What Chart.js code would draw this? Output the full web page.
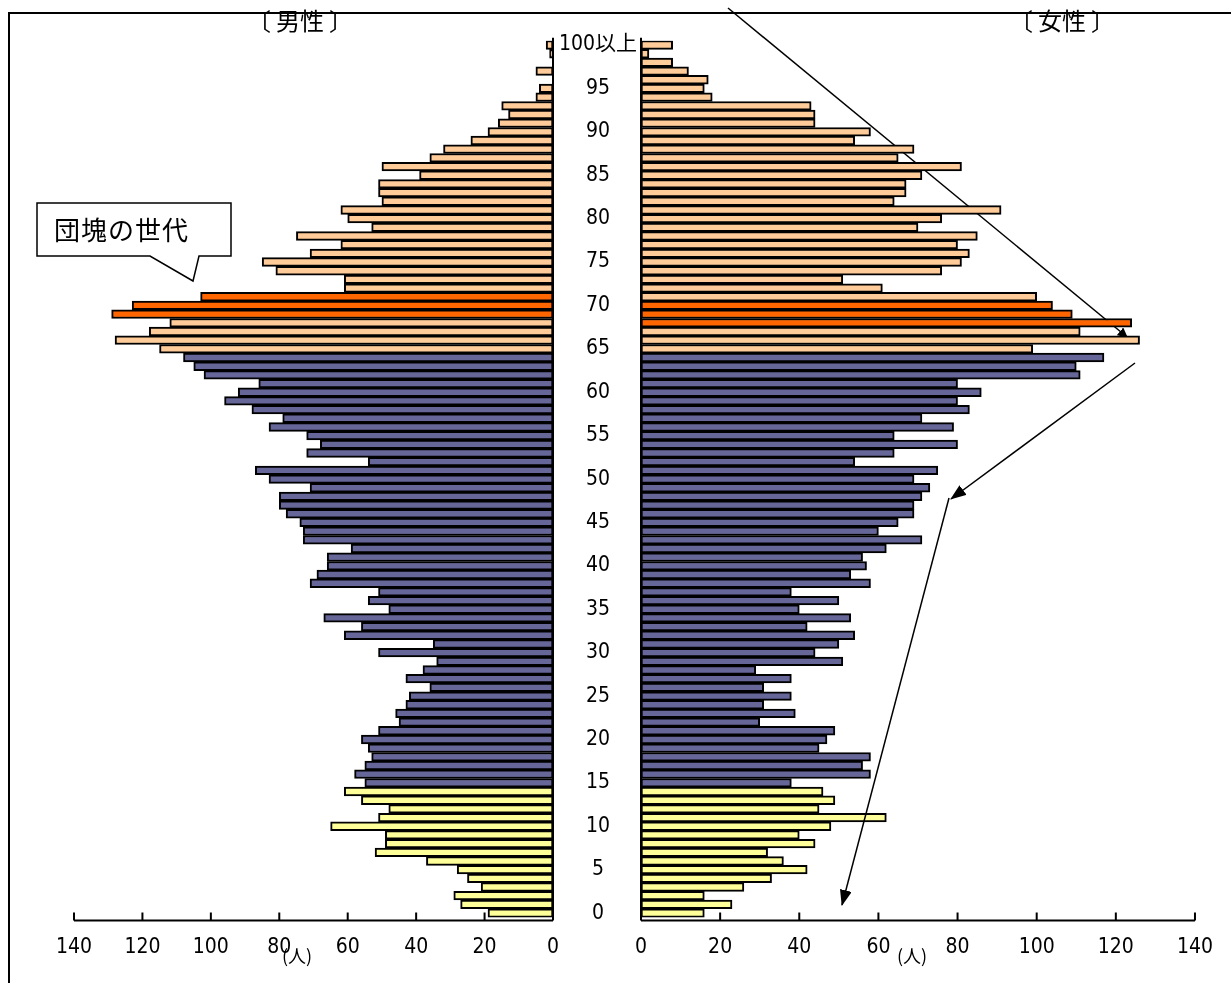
<!DOCTYPE html>
<html lang="ja">
<head>
<meta charset="utf-8">
<title>人口ピラミッド</title>
<script src="https://cdn.jsdelivr.net/npm/chart.js@4.4.1/dist/chart.umd.min.js"></script>
<style>
  html, body { margin: 0; padding: 0; background: #fff; }
  body { width: 1231px; height: 983px; position: relative; overflow: hidden;
         font-family: "Liberation Sans Narrow", "DejaVu Sans Condensed", "Noto Sans CJK JP", sans-serif; color: #000; }
  .frame { position: absolute; left: 8px; top: 12px; width: 1300px; height: 1000px;
           border-left: 2px solid #000; border-top: 2px solid #000; }
  .chartBox { position: absolute; top: 0; height: 983px; z-index: 1; }
  #maleBox { left: 0; width: 560px; }
  #femaleBox { left: 555px; width: 676px; }
  .txt { position: absolute; text-align: center; white-space: nowrap; z-index: 3; }
  .sex { font-family: "Noto Sans CJK JP", sans-serif; font-size: 24px; line-height: 28px; top: 6px; width: 200px; }
  .sex .open { padding-right: 5px; }
  .sex .close { padding-left: 5px; }
  .unit { font-family: "Noto Sans CJK JP", sans-serif; font-size: 18px; line-height: 24px; top: 943px; width: 60px; }
  .callout { font-family: "Noto Sans CJK JP", sans-serif; font-size: 26px; line-height: 30px; left: 54px; top: 214px;
             text-align: left; letter-spacing: 1px; }
  svg { position: absolute; left: 0; top: 0; }
</style>
</head>
<body>
<div class="frame"></div>

<!-- line behind the bars -->
<svg width="1231" height="983" style="z-index:0">
  <defs>
    <marker id="headA" markerWidth="10" markerHeight="10" refX="9" refY="5" orient="auto" markerUnits="userSpaceOnUse">
      <path d="M0,0 L10,5 L0,10 z" fill="#000"/>
    </marker>
  </defs>
  <line x1="728" y1="8" x2="1127" y2="337" stroke="#000" stroke-width="1.5" marker-end="url(#headA)"/>
</svg>

<div class="chartBox" id="maleBox"><canvas id="maleChart"></canvas></div>
<div class="chartBox" id="femaleBox"><canvas id="femaleChart"></canvas></div>

<!-- callout and arrows over the bars -->
<svg width="1231" height="983" style="z-index:2">
  <defs>
    <marker id="headB" markerWidth="16" markerHeight="12" refX="15" refY="6" orient="auto" markerUnits="userSpaceOnUse">
      <path d="M0,0 L16,6 L0,12 z" fill="#000"/>
    </marker>
  </defs>
  <polygon points="37,203 231,203 231,256 199,256 193,281 150,256 37,256" fill="#fff" stroke="#000" stroke-width="1.5"/>
  <line x1="1135" y1="363" x2="951" y2="499" stroke="#000" stroke-width="1.5" marker-end="url(#headB)"/>
  <line x1="949" y1="498" x2="842" y2="905" stroke="#000" stroke-width="1.5" marker-end="url(#headB)"/>
</svg>

<div class="txt sex" style="left:200px"><span class="open">〔</span>男性<span class="close">〕</span></div>
<div class="txt sex" style="left:962px"><span class="open">〔</span>女性<span class="close">〕</span></div>
<div class="txt unit" style="left:267px">(人)</div>
<div class="txt unit" style="left:882px">(人)</div>
<div class="txt callout">団塊の世代</div>

<script>
// ─────────────────────────────────────────────
// Data (age 0 → 100以上)
// ─────────────────────────────────────────────
const ages = [];
for (let a = 0; a < 100; a++) ages.push(String(a));
ages.push('100以上');

const tickLabels = ['0', '5', '10', '15', '20', '25', '30', '35', '40', '45', '50',
                    '55', '60', '65', '70', '75', '80', '85', '90', '95', '100以上'];
const axisTicks = [0, 20, 40, 60, 80, 100, 120, 140];

const male = [
    19, 27, 29, 21, 25, 28, 37, 52, 49, 49,      // 0-9
    65, 51, 48, 56, 61, 55, 58, 55, 53, 54,      // 10-19
    56, 51, 45, 46, 43, 42, 36, 43, 38, 34,      // 20-29
    51, 35, 61, 56, 67, 48, 54, 51, 71, 69,      // 30-39
    66, 66, 59, 73, 73, 74, 78, 80, 80, 71,      // 40-49
    83, 87, 54, 72, 68, 72, 83, 79, 88, 96,      // 50-59
    92, 86, 102, 105, 108, 115, 128, 118, 112, 129, // 60-69
    123, 103, 61, 61, 81, 85, 71, 62, 75, 53,    // 70-79
    60, 62, 50, 51, 51, 39, 50, 36, 32, 24,      // 80-89
    19, 16, 13, 15, 5, 4, 0, 5, 0, 1,            // 90-99
    2                                            // 100以上
];

const female = [
    16, 23, 16, 26, 33, 42, 36, 32, 44, 40,      // 0-9
    48, 62, 45, 49, 46, 38, 58, 56, 58, 45,      // 10-19
    47, 49, 30, 39, 31, 38, 31, 38, 29, 51,      // 20-29
    44, 50, 54, 42, 53, 40, 50, 38, 58, 53,      // 30-39
    57, 56, 62, 71, 60, 65, 69, 69, 71, 73,      // 40-49
    69, 75, 54, 64, 80, 64, 79, 71, 83, 80,      // 50-59
    86, 80, 111, 110, 117, 99, 126, 111, 124, 109, // 60-69
    104, 100, 61, 51, 76, 81, 83, 80, 85, 70,    // 70-79
    76, 91, 64, 67, 67, 71, 81, 65, 69, 54,      // 80-89
    58, 44, 44, 43, 18, 16, 17, 12, 8, 2,        // 90-99
    8                                            // 100以上
];

// 団塊の世代 highlighted rows
const maleBoomAges = [69, 70, 71];
const femaleBoomAges = [68, 69, 70];

const YELLOW = '#FFFF99';
const PURPLE = '#666699';
const PEACH = '#FFCC99';
const ORANGE = '#FF6600';

function barColors(boomAges) {
    return ages.map((_, age) => {
        if (boomAges.includes(age)) return ORANGE;
        if (age < 15) return YELLOW;
        if (age < 65) return PURPLE;
        return PEACH;
    });
}

const labelFont = { family: '"Liberation Sans Narrow", "DejaVu Sans Condensed", "Noto Sans CJK JP", sans-serif', size: 21 };

// axis lines + upward tick marks (Excel style)
const axisLines = {
    id: 'axisLines',
    afterDatasetsDraw(chart) {
        const { ctx, chartArea, scales: { x } } = chart;
        const base = x.getPixelForValue(0);
        const yAxis = chartArea.bottom + 3;
        ctx.save();
        ctx.strokeStyle = '#000';
        ctx.lineWidth = 2;
        ctx.beginPath();
        ctx.moveTo(base, chartArea.top - 3);
        ctx.lineTo(base, yAxis);
        ctx.moveTo(x.getPixelForValue(0), yAxis);
        ctx.lineTo(x.getPixelForValue(140), yAxis);
        axisTicks.forEach(v => {
            const px = x.getPixelForValue(v);
            ctx.moveTo(px, yAxis);
            ctx.lineTo(px, yAxis - 8);
        });
        ctx.stroke();
        ctx.restore();
    }
};

function makeChart(canvasId, values, colors, isMale) {
    return new Chart(document.getElementById(canvasId), {
        type: 'bar',
        data: {
            labels: ages,
            datasets: [{
                data: values,
                backgroundColor: colors,
                borderColor: '#000',
                borderWidth: 2,
                borderSkipped: false,
                barPercentage: 1,
                categoryPercentage: 1
            }]
        },
        options: {
            indexAxis: 'y',
            responsive: true,
            maintainAspectRatio: false,
            animation: false,
            layout: {
                padding: isMale
                    ? { left: 74, right: 7, top: 40.7, bottom: 0 }
                    : { left: 0, right: 28, top: 40.7, bottom: 0 }
            },
            plugins: {
                legend: { display: false },
                tooltip: { enabled: false }
            },
            scales: {
                x: {
                    type: 'linear',
                    reverse: isMale,
                    min: 0,
                    max: 140,
                    afterBuildTicks: s => { s.ticks = axisTicks.map(v => ({ value: v })); },
                    ticks: { padding: 18, color: '#000', font: labelFont, maxRotation: 0 },
                    grid: { display: false, drawTicks: false },
                    border: { display: false },
                    afterFit: s => { s.height = 65.6; }
                },
                y: isMale ? { display: false, reverse: true } : {
                    reverse: true,
                    position: 'left',
                    grid: { display: false, drawTicks: false },
                    border: { display: false },
                    ticks: {
                        autoSkip: false,
                        crossAlign: 'center',
                        padding: 4,
                        color: '#000',
                        font: labelFont,
                        callback: (v, i) => tickLabels.includes(ages[i]) ? ages[i] : ''
                    },
                    afterFit: s => { s.width = 86; }
                }
            }
        },
        plugins: [axisLines]
    });
}

makeChart('maleChart', male, barColors(maleBoomAges), true);
makeChart('femaleChart', female, barColors(femaleBoomAges), false);
</script>
</body>
</html>
